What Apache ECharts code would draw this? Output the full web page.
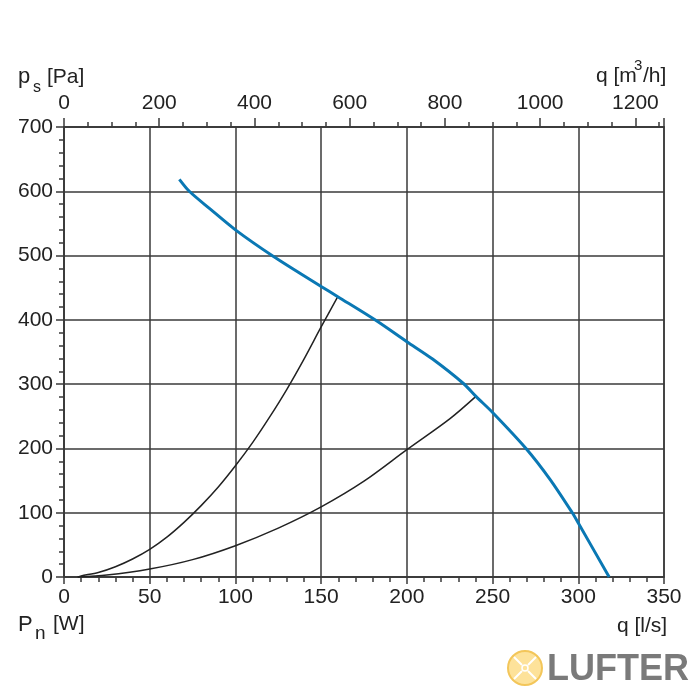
<!DOCTYPE html>
<html>
<head>
<meta charset="utf-8">
<script src="https://cdn.jsdelivr.net/npm/echarts@6/dist/echarts.min.js"></script>
<style>html,body{margin:0;padding:0;background:#fff;}#c{width:700px;height:700px;}</style>
</head>
<body>
<div id="c"></div>
<script>
// q [l/s], p_s [Pa]
const fanCurve = [[67.3,618.6],[73.1,600],[85,573],[100,540],[122,499],[150,452],[159.7,436],[181.4,400],[200,366],[215,339],[233,301],[240.3,281],[250,256],[269.5,200],[283.5,152],[296.5,100],[300,84],[318,0]];
const systemCurve1 = [[8,0],[10,1.7],[20,7],[30,16],[40,28],[50,43],[60,62],[70,85],[80,111],[90,140],[100,173],[110,209],[120,249],[130,292],[140,339],[150,389],[159.7,436]];
const systemCurve2 = [[8,0],[25,3],[50,12.4],[75,27],[100,48.7],[125,76],[150,109],[175,149],[200,198],[225,246],[240.3,281]];
const qLsTicks = {min:0, max:350, interval:50};
const qM3hTicks = {min:0, max:1260, interval:200};
const psTicks = {min:0, max:700, interval:100};

const chart = echarts.init(document.getElementById('c'));
const font = 'Liberation Sans, Arial, sans-serif';
const lineCol = '#3a3a3a';
const labelStyle = {color:'#222', fontSize:21, fontFamily:font};
chart.setOption({
  animation:false,
  grid:{left:64, top:127, width:600, height:450, show:true, borderColor:lineCol, borderWidth:1.5, backgroundColor:'transparent'},
  xAxis:[
    {type:'value', position:'bottom', min:qLsTicks.min, max:qLsTicks.max, interval:qLsTicks.interval,
     axisLine:{show:true, onZero:false, lineStyle:{color:lineCol, width:1.5}},
     axisTick:{show:true, length:7, lineStyle:{color:lineCol, width:1.5}},
     minorTick:{show:true, splitNumber:5, length:5, lineStyle:{color:lineCol, width:1.5}},
     splitLine:{show:true, lineStyle:{color:lineCol, width:1.5}},
     axisLabel:{...labelStyle, margin:10}},
    {type:'value', position:'top', min:qM3hTicks.min, max:qM3hTicks.max, interval:qM3hTicks.interval,
     axisLine:{show:true, onZero:false, lineStyle:{color:lineCol, width:1.5}},
     axisTick:{show:true, length:9, lineStyle:{color:lineCol, width:1.5}},
     minorTick:{show:true, splitNumber:4, length:5, lineStyle:{color:lineCol, width:1.5}},
     splitLine:{show:false},
     axisLabel:{...labelStyle, margin:13, showMaxLabel:false, formatter:v => String(v)}}
  ],
  yAxis:[
    {type:'value', min:psTicks.min, max:psTicks.max, interval:psTicks.interval,
     axisLine:{show:true, onZero:false, lineStyle:{color:lineCol, width:1.5}},
     axisTick:{show:true, length:8, lineStyle:{color:lineCol, width:1.5}},
     minorTick:{show:true, splitNumber:5, length:5, lineStyle:{color:lineCol, width:1.5}},
     splitLine:{show:true, lineStyle:{color:lineCol, width:1.5}},
     axisLabel:{...labelStyle, margin:11}}
  ],
  series:[
    {type:'line', data:systemCurve1, xAxisIndex:0, yAxisIndex:0, smooth:0.3, symbol:'none', lineStyle:{color:'#222', width:1.5}, z:3},
    {type:'line', data:systemCurve2, xAxisIndex:0, yAxisIndex:0, smooth:0.3, symbol:'none', lineStyle:{color:'#222', width:1.5}, z:3},
    {type:'line', data:fanCurve, xAxisIndex:0, yAxisIndex:0, smooth:0.3, symbol:'none', lineStyle:{color:'#0a78b4', width:3}, z:4}
  ],
  graphic:[
    {type:'text', left:18, top:66, style:{text:'p', fill:'#222', font:'22px '+font}},
    {type:'text', left:33, top:80, style:{text:'s', fill:'#222', font:'16px '+font}},
    {type:'text', left:47, top:67, style:{text:'[Pa]', fill:'#222', font:'21px '+font}},
    {type:'text', left:596, top:66, style:{text:'q [m', fill:'#222', font:'21px '+font}},
    {type:'text', left:634, top:58, style:{text:'3', fill:'#222', font:'15px '+font}},
    {type:'text', left:643, top:66, style:{text:'/h]', fill:'#222', font:'21px '+font}},
    {type:'text', left:18, top:614, style:{text:'P', fill:'#222', font:'22px '+font}},
    {type:'text', left:35, top:624, style:{text:'n', fill:'#222', font:'19px '+font}},
    {type:'text', left:53, top:614, style:{text:'[W]', fill:'#222', font:'21px '+font}},
    {type:'text', left:617, top:616, style:{text:'q [l/s]', fill:'#222', font:'21px '+font}},
    {type:'circle', shape:{cx:525, cy:668, r:17}, style:{fill:'#fde29a', stroke:'#f3c65a', lineWidth:2}},
    {type:'circle', shape:{cx:525, cy:668, r:3}, style:{fill:'#fde29a', stroke:'#ffffff', lineWidth:1.5}},
    {type:'polyline', shape:{points:[[514,657],[522,665]]}, style:{stroke:'#fff', lineWidth:2}},
    {type:'polyline', shape:{points:[[536,657],[528,665]]}, style:{stroke:'#fff', lineWidth:2}},
    {type:'polyline', shape:{points:[[514,679],[522,671]]}, style:{stroke:'#fff', lineWidth:2}},
    {type:'polyline', shape:{points:[[536,679],[528,671]]}, style:{stroke:'#fff', lineWidth:2}},
    {type:'text', left:547, top:652, style:{text:'LUFTER', fill:'#7a7a7a', font:'bold 36px '+font}}
  ]
});
</script>
</body>
</html>
